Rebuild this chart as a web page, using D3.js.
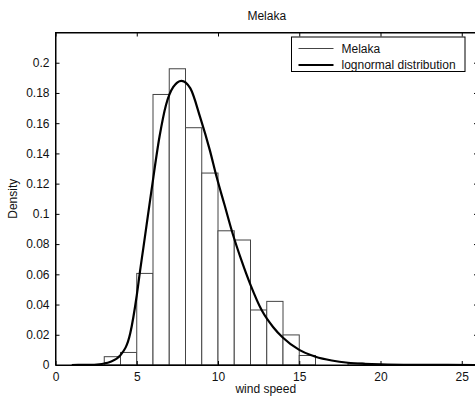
<!DOCTYPE html>
<html>
<head>
<meta charset="utf-8">
<script src="https://cdn.jsdelivr.net/npm/d3@7"></script>
<style>
  body { margin: 0; background: #fff; }
  svg { display: block; overflow: hidden; }
  text { font-family: "Liberation Sans", Arial, sans-serif; fill: #111; }
</style>
</head>
<body>
<div id="chart"></div>
<script>
// histogram bins (left edge of each 1-unit bin) and their densities
const binStarts = [3, 4, 5, 6, 7, 8, 9, 10, 11, 12, 13, 14, 15, 18];
const binDensity = [0.0055, 0.0083, 0.0606, 0.179, 0.196, 0.157, 0.127, 0.0888, 0.0827, 0.0364, 0.0421, 0.0199, 0.0063, 0.0012];

// fitted lognormal curve
const fitX = [1, 2, 2.7, 3, 3.35, 4, 4.6, 5, 5.2, 5.4, 5.9, 6.4, 6.8, 7.25, 7.75, 8.3, 8.9, 9.5, 9.9, 10.4, 10.9, 11.45, 12, 12.7, 13.4, 14, 15, 15.7, 16, 17, 18, 19, 20, 22, 26];
const fitY = [0, 0.0001, 0.0005, 0.001, 0.002, 0.0065, 0.021, 0.046, 0.062, 0.077, 0.115, 0.151, 0.172, 0.184, 0.188, 0.183, 0.164, 0.142, 0.125, 0.106, 0.087, 0.069, 0.053, 0.036, 0.025, 0.018, 0.010, 0.0066, 0.0055, 0.003, 0.0015, 0.0008, 0.0004, 0.0001, 0];

const xTicks = [0, 5, 10, 15, 20, 25];
const yTicks = [0, 0.02, 0.04, 0.06, 0.08, 0.1, 0.12, 0.14, 0.16, 0.18, 0.2];
const legendLabels = ["Melaka", "lognormal distribution"];

const margin = { top: 32.5, left: 55.5 };
const width = 422.5;
const height = 332.5;

const svg = d3.select("#chart")
    .append("svg")
    .attr("width", 475)
    .attr("height", 398);

const g = svg.append("g")
    .attr("transform", `translate(${margin.left},${margin.top})`);

const x = d3.scaleLinear().domain([0, 26]).range([0, width]);
const y = d3.scaleLinear().domain([0, 0.22]).range([height, 0]);

// bars
g.selectAll("rect.bar")
    .data(binStarts.map((b, i) => ({ x0: b, x1: b + 1, v: binDensity[i] })))
    .join("rect")
    .attr("class", "bar")
    .attr("x", d => x(d.x0))
    .attr("y", d => y(d.v))
    .attr("width", d => x(d.x1) - x(d.x0))
    .attr("height", d => y(0) - y(d.v))
    .attr("fill", "#fff")
    .attr("stroke", "#444")
    .attr("stroke-width", 1);

// fitted curve
const line = d3.line()
    .x(d => x(d[0]))
    .y(d => y(d[1]))
    .curve(d3.curveMonotoneX);

g.append("path")
    .datum(fitX.map((v, i) => [v, fitY[i]]))
    .attr("fill", "none")
    .attr("stroke", "#000")
    .attr("stroke-width", 2.2)
    .attr("d", line);

// axes (ticks point inward, MATLAB style)
const fmt = d => String(+d.toFixed(2));

g.append("g")
    .attr("transform", `translate(0,${height})`)
    .call(d3.axisBottom(x).tickValues(xTicks).tickSizeInner(-4).tickSizeOuter(0).tickPadding(7).tickFormat(fmt));

g.append("g")
    .call(d3.axisTop(x).tickValues(xTicks).tickSizeInner(-4).tickSizeOuter(0).tickFormat(""));

g.append("g")
    .call(d3.axisLeft(y).tickValues(yTicks).tickSizeInner(-4).tickSizeOuter(0).tickPadding(6).tickFormat(fmt));

g.append("g")
    .attr("transform", `translate(${width},0)`)
    .call(d3.axisRight(y).tickValues(yTicks).tickSizeInner(-4).tickSizeOuter(0).tickFormat(""));

g.selectAll(".domain").attr("stroke", "#000");
g.selectAll(".tick line").attr("stroke", "#000");
g.selectAll(".tick text").style("font-size", "12px").attr("fill", "#111");

// frame
g.append("rect")
    .attr("width", width)
    .attr("height", height)
    .attr("fill", "none")
    .attr("stroke", "#000")
    .attr("stroke-width", 1);

// labels
svg.append("text")
    .attr("x", margin.left + width / 2)
    .attr("y", 20)
    .attr("text-anchor", "middle")
    .style("font-size", "12px")
    .text("Melaka");

svg.append("text")
    .attr("x", margin.left + width / 2 - 1)
    .attr("y", 393)
    .attr("text-anchor", "middle")
    .style("font-size", "12px")
    .text("wind speed");

svg.append("text")
    .attr("transform", `translate(17,${margin.top + height / 2}) rotate(-90)`)
    .attr("text-anchor", "middle")
    .style("font-size", "12px")
    .text("Density");

// legend
const legend = svg.append("g").attr("transform", "translate(291.5,37)");
legend.append("rect")
    .attr("width", 173.5)
    .attr("height", 34.5)
    .attr("fill", "#fff")
    .attr("stroke", "#000");

legendLabels.forEach((label, i) => {
    const row = legend.append("g").attr("transform", `translate(0,${11.5 + i * 16.5})`);
    row.append("line")
        .attr("x1", 7).attr("x2", 42)
        .attr("stroke", i === 0 ? "#444" : "#000")
        .attr("stroke-width", i === 0 ? 1 : 2.2);
    row.append("text")
        .attr("x", 50)
        .attr("dy", "0.35em")
        .style("font-size", "12px")
        .text(label);
});
</script>
</body>
</html>
